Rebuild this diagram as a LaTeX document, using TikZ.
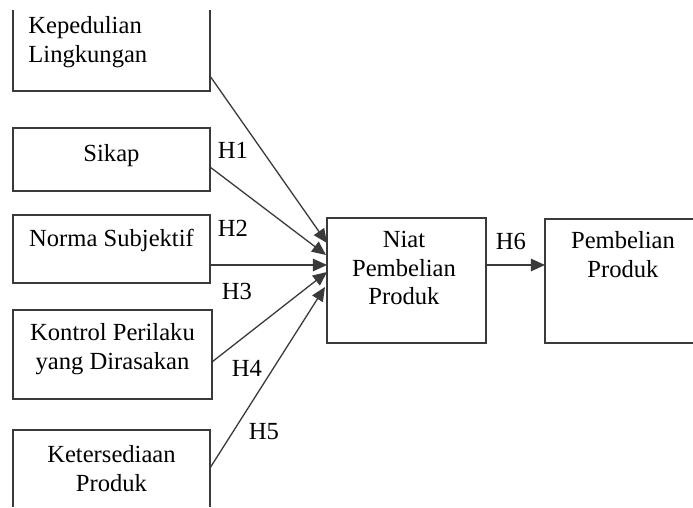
\documentclass[tikz,border=0pt]{standalone}
\usepackage{fontspec}
\setmainfont{Liberation Serif}
\usetikzlibrary{arrows.meta,calc}
\definecolor{linec}{HTML}{3A3A3A}
\tikzset{
  boxshape/.style={draw=linec, line width=0.65pt, rectangle, inner sep=0pt, outer sep=0pt, anchor=north west},
  openbox/.style={draw=none, rectangle, inner sep=0pt, outer sep=0pt, anchor=north west},
  boxtext/.style={inner sep=0pt, anchor=north, align=center, font=\fontsize{12.3}{14.3}\selectfont},
  hlabel/.style={inner sep=0pt, font=\fontsize{12.3}{14.3}\selectfont},
  link/.style={draw=linec, line width=0.65pt, -{Triangle[length=7pt,width=6.2pt]}},
  edge/.style={draw=linec, line width=0.65pt}
}
\begin{document}
\begin{tikzpicture}[x=0.5pt,y=-0.5pt]
\useasboundingbox (0,0) rectangle (693,508);
% boxes
\node[openbox, minimum width=197*0.5pt, minimum height=81*0.5pt] (kep) at (13,10) {};
\draw[edge] (kep.north west) |- (kep.south east) -- (kep.north east);
\node[boxshape, minimum width=197*0.5pt, minimum height=63*0.5pt] (sikap) at (13,128) {};
\node[boxshape, minimum width=197*0.5pt, minimum height=68*0.5pt] (norma) at (13,215) {};
\node[boxshape, minimum width=199*0.5pt, minimum height=89*0.5pt] (kontrol) at (13,310) {};
\node[openbox, minimum width=197*0.5pt, minimum height=77*0.5pt] (ket) at (13,430) {};
\draw[edge] (ket.south west) |- (ket.north east) -- (ket.south east);
\node[boxshape, minimum width=159*0.5pt, minimum height=125*0.5pt] (niat) at (327,218) {};
\node[openbox, minimum width=148*0.5pt, minimum height=124*0.5pt] (pemb) at (545,219) {};
\draw[edge] (pemb.north east) -| (pemb.south west) -- (pemb.south east);
% texts
\node[boxtext, anchor=north west, align=left] (tkep) at (28,16) {Kepedulian\\Lingkungan};
\node[boxtext] (tsikap) at (111.5,144) {Sikap};
\node[boxtext] (tnorma) at (111.5,229) {Norma Subjektif};
\node[boxtext] (tkontrol) at (112.5,323) {Kontrol Perilaku\\yang Dirasakan};
\node[boxtext] (tket) at (111.5,445) {Ketersediaan\\Produk};
\node[boxtext] (tniat) at (404,231) {Niat\\Pembelian\\Produk};
\node[boxtext] (tpemb) at (623,231) {Pembelian\\Produk};
% connectors
\draw[link] ($(kep.south east)+(0,-15)$) -- ($(niat.north west)+(0,25)$);
\draw[link] ($(sikap.south east)+(0,-24)$) -- ($(niat.north west)+(-1,37)$);
\draw[link] ($(norma.south east)+(0,-18)$) -- ($(niat.north west)+(0,47)$);
\draw[link] ($(kontrol.north east)+(0,52)$) -- ($(niat.north west)+(0,54)$);
\draw[link] ($(ket.north east)+(0,38)$) -- ($(niat.north west)+(-2,69)$);
\draw[link] ($(niat.north east)+(0,47)$) -- ($(pemb.north west)+(0,46)$);
% labels
\node[hlabel] (h1) at (233,150) {H1};
\node[hlabel] (h2) at (233,228) {H2};
\node[hlabel] (h3) at (237,291) {H3};
\node[hlabel] (h4) at (247,368) {H4};
\node[hlabel] (h5) at (264,432) {H5};
\node[hlabel] (h6) at (511,241) {H6};
\end{tikzpicture}
\end{document}
